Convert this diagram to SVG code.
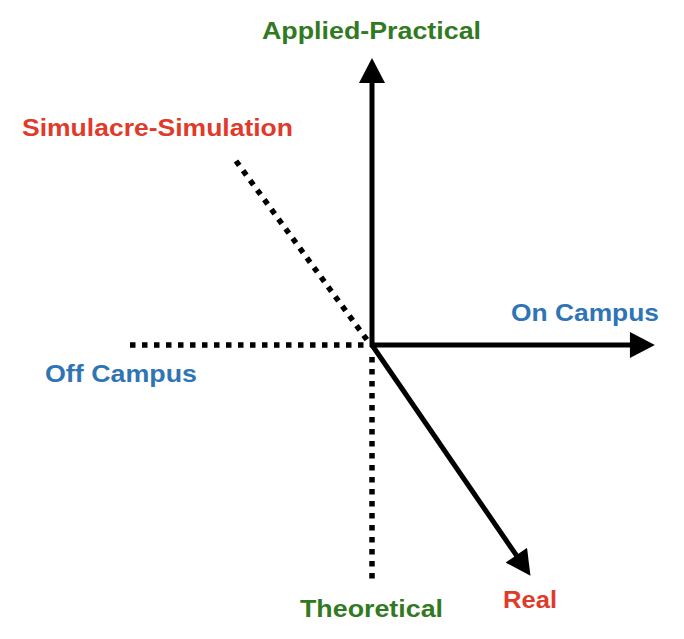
<svg xmlns="http://www.w3.org/2000/svg" width="684" height="639" viewBox="0 0 684 639">
<style>
.lbl{font-family:"Liberation Sans",Arial,sans-serif;font-weight:bold;font-size:24px}
.g{fill:#317a22}.r{fill:#e03a2a}.b{fill:#2f74b5}
.axis{stroke:#000;stroke-width:5;fill:none}
.dot{stroke:#000;stroke-width:5.5;fill:none;stroke-dasharray:5.5 6.5}
</style>
<defs>
<marker id="ah" markerUnits="userSpaceOnUse" markerWidth="26" markerHeight="26" viewBox="0 0 24 25" refX="2" refY="12.5" orient="auto">
<path d="M0,0 L24,12.5 L0,25 z" fill="#000"/>
</marker>
</defs>
<rect width="684" height="639" fill="#fff"/>
<g id="connectors">
<line class="dot" x1="130" y1="345" x2="370" y2="345"/>
<line class="dot" x1="372" y1="357" x2="372" y2="585"/>
<line class="dot" x1="236" y1="161" x2="370" y2="344"/>
<line class="axis" x1="372" y1="347" x2="372" y2="81" marker-end="url(#ah)"/>
<line class="axis" x1="370" y1="345" x2="632" y2="345" marker-end="url(#ah)"/>
<line class="axis" x1="372" y1="345" x2="517.5" y2="556.9" marker-end="url(#ah)"/>
</g>
<g id="applied"><text class="lbl g" x="262" y="39" textLength="219" lengthAdjust="spacingAndGlyphs">Applied-Practical</text></g>
<g id="simulacre"><text class="lbl r" x="22" y="136" textLength="271" lengthAdjust="spacingAndGlyphs">Simulacre-Simulation</text></g>
<g id="oncampus"><text class="lbl b" x="511" y="321" textLength="148" lengthAdjust="spacingAndGlyphs">On Campus</text></g>
<g id="offcampus"><text class="lbl b" x="45" y="382" textLength="152" lengthAdjust="spacingAndGlyphs">Off Campus</text></g>
<g id="theoretical"><text class="lbl g" x="300" y="617" textLength="143" lengthAdjust="spacingAndGlyphs">Theoretical</text></g>
<g id="real"><text class="lbl r" x="503" y="608" textLength="54" lengthAdjust="spacingAndGlyphs">Real</text></g>
</svg>
